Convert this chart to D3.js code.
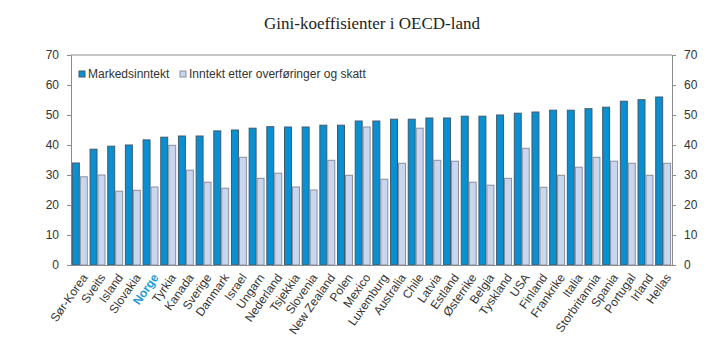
<!DOCTYPE html>
<html>
<head>
<meta charset="utf-8">
<script src="https://cdn.jsdelivr.net/npm/d3@7"></script>
<style>
  body { margin: 0; background: #fff; }
  text { font-family: "Liberation Sans", Arial, sans-serif; }
</style>
</head>
<body>
<div id="container"></div>
<script>
const countries = ["Sør-Korea", "Sveits", "Island", "Slovakia", "Norge", "Tyrkia", "Kanada", "Sverige",
    "Danmark", "Israel", "Ungarn", "Nederland", "Tsjekkia", "Slovenia", "New Zealand", "Polen", "Mexico",
    "Luxemburg", "Australia", "Chile", "Latvia", "Estland", "Østerrike", "Belgia", "Tyskland", "USA",
    "Finland", "Frankrike", "Italia", "Storbritannia", "Spania", "Portugal", "Irland", "Hellas"]
const markedsinntekt = [34, 38.6, 39.6, 40, 41.7, 42.6, 43, 43, 44.7, 45, 45.6, 46.1, 46, 46, 46.6, 46.6, 48,
    48, 48.6, 48.6, 49, 49, 49.6, 49.6, 50, 50.6, 51, 51.6, 51.6, 52.1, 52.6, 54.6, 55.1, 56]
const etterSkatt = [29.4, 30, 24.6, 24.9, 26, 39.9, 31.6, 27.6, 25.6, 35.9, 28.9, 30.6, 26, 25, 34.9, 29.9, 46,
    28.6, 33.9, 45.6, 34.9, 34.6, 27.6, 26.6, 28.9, 38.9, 25.9, 29.9, 32.6, 35.9, 34.6, 33.9, 29.9, 33.9]
const seriesNames = ["Markedsinntekt", "Inntekt etter overføringer og skatt"]
const yTicks = [0, 10, 20, 30, 40, 50, 60, 70]

const W = 724, H = 353
const m = { left: 71, right: 52, top: 55, bottom: 88 }
const blue = "#0a8fd0", light = "#c8d7ef"

const svg = d3.select('#container').append('svg').attr('width', W).attr('height', H)

svg.append('text')
    .attr('x', 372).attr('y', 29)
    .attr('text-anchor', 'middle')
    .style('font-family', '"Liberation Serif", "Times New Roman", serif')
    .style('font-size', '17px')
    .attr('fill', '#222')
    .text('Gini-koeffisienter i OECD-land')

const x = d3.scaleBand().domain(countries).range([m.left, W - m.right]).paddingInner(0.1).paddingOuter(0.05)
const xs = d3.scaleBand().domain([0, 1]).range([0, x.bandwidth()])
const y = d3.scaleLinear().domain([0, 70]).range([H - m.bottom, m.top])

// frame lines
const g = svg.append('g')
g.append('line').attr('x1', m.left).attr('x2', W - m.right).attr('y1', m.top).attr('y2', m.top)
    .attr('stroke', '#8c8c8c')

const yl = svg.append('g').attr('transform', `translate(${m.left},0)`)
    .call(d3.axisLeft(y).tickValues(yTicks).tickSize(4).tickPadding(8))
const yr = svg.append('g').attr('transform', `translate(${W - m.right},0)`)
    .call(d3.axisRight(y).tickValues(yTicks).tickSize(4).tickPadding(8))
for (const a of [yl, yr]) {
    a.select('.domain').attr('stroke', '#8c8c8c')
    a.selectAll('.tick line').attr('stroke', '#8c8c8c')
    a.selectAll('.tick text').style('font-size', '12px').attr('fill', '#333')
}

const bars = svg.append('g')
const both = [markedsinntekt, etterSkatt]
both.forEach((vals, si) => {
    bars.selectAll('.s' + si)
        .data(vals)
        .enter()
        .append('rect')
        .attr('class', 's' + si)
        .attr('x', (d, i) => x(countries[i]) + xs(si) + 0.5)
        .attr('y', d => y(d))
        .attr('width', xs.bandwidth() - 1)
        .attr('height', d => y(0) - y(d))
        .attr('fill', si === 0 ? blue : light)
        .attr('stroke', si === 0 ? '#3d5a70' : '#8a8f9a')
        .attr('stroke-width', 1)
})

// bottom axis
const xa = svg.append('g').attr('transform', `translate(0,${y(0)})`)
    .call(d3.axisBottom(x).tickSize(0).tickPadding(0))
xa.select('.domain').attr('stroke', '#8c8c8c')
xa.selectAll('.tick text')
    .attr('text-anchor', 'end')
    .attr('transform', 'translate(5,10) rotate(-55)')
    .attr('dy', '0.35em')
    .style('font-size', '12px')
    .attr('fill', d => d === 'Norge' ? '#1a9ad8' : '#333')
    .style('font-weight', d => d === 'Norge' ? 'bold' : 'normal')

// legend
const leg = svg.append('g').attr('transform', 'translate(79,71)')
const legX = [0, 101]
seriesNames.forEach((n, i) => {
    leg.append('rect').attr('x', legX[i]).attr('y', 0).attr('width', 6).attr('height', 6)
        .attr('fill', i === 0 ? blue : light)
        .attr('stroke', i === 0 ? '#3d5a70' : '#8a8f9a')
    leg.append('text').attr('x', legX[i] + 9).attr('y', 7)
        .style('font-size', '12px').attr('fill', '#333')
        .text(n)
})
</script>
</body>
</html>
